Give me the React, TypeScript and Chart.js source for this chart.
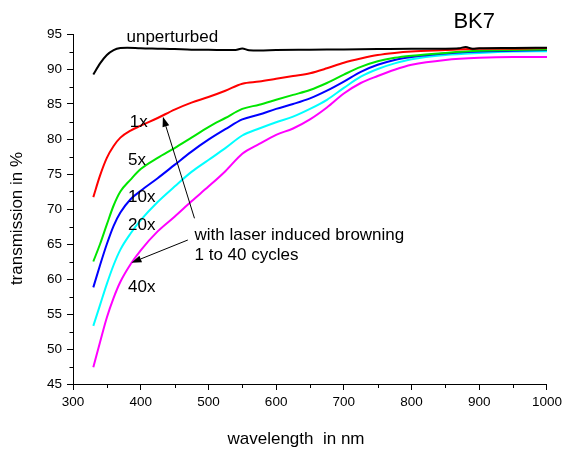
import React, { useEffect, useRef } from "react";
import { Chart, registerables } from "chart.js";

Chart.register(...registerables);

// ---------- data ----------
const wavelengths = [330, 340, 350, 360, 370, 385, 400, 425, 450, 475, 500, 525, 550, 575, 600, 625, 650, 675, 700, 725, 750, 775, 800, 850, 900, 950, 1000];

const cycles1 = [71.7, 74.8, 77.3, 79.0, 80.2, 81.2, 81.9, 83.0, 84.2, 85.2, 86.0, 86.9, 87.9, 88.2, 88.6, 89.0, 89.4, 90.1, 90.9, 91.5, 92.0, 92.3, 92.5, 92.7, 92.9, 92.9, 93.0];
const cycles5 = [62.5, 65.0, 67.8, 70.5, 72.5, 74.2, 75.7, 77.3, 78.7, 80.2, 81.7, 83.0, 84.3, 84.9, 85.6, 86.3, 87.0, 88.0, 89.2, 90.3, 91.1, 91.6, 91.9, 92.3, 92.6, 92.7, 92.8];
const cycles10 = [58.8, 62.0, 65.0, 67.6, 69.5, 71.4, 72.6, 74.4, 76.3, 78.2, 79.9, 81.4, 82.8, 83.5, 84.3, 85.0, 85.8, 86.9, 88.2, 89.6, 90.6, 91.3, 91.7, 92.2, 92.5, 92.6, 92.7];
const cycles20 = [53.3, 56.3, 59.3, 62.0, 64.2, 66.5, 68.4, 71.0, 73.2, 75.3, 77.0, 78.7, 80.5, 81.5, 82.4, 83.2, 84.3, 85.6, 87.3, 88.9, 90.0, 90.8, 91.4, 92.0, 92.3, 92.5, 92.55];
const cycles40 = [47.4, 51.0, 54.5, 57.3, 59.6, 62.1, 64.1, 66.8, 68.9, 71.1, 73.2, 75.4, 77.9, 79.3, 80.6, 81.5, 82.8, 84.5, 86.5, 88.0, 89.0, 89.9, 90.6, 91.3, 91.6, 91.7, 91.7];

const unperturbedWl = [330, 340, 350, 360, 370, 380, 400, 425, 450, 475, 500, 525, 540, 550, 560, 575, 600, 650, 700, 750, 800, 850, 870, 880, 890, 900, 950, 1000];
const unperturbedT = [89.2, 90.8, 92.0, 92.7, 93.0, 93.05, 92.95, 92.9, 92.85, 92.75, 92.75, 92.7, 92.72, 92.92, 92.68, 92.65, 92.7, 92.75, 92.8, 92.85, 92.9, 92.9, 92.95, 93.15, 92.9, 92.95, 93.0, 93.05];

const xTicks = [300, 400, 500, 600, 700, 800, 900, 1000];
const xMinorTicks = [350, 450, 550, 650, 750, 850, 950];
const yTicks = [45, 50, 55, 60, 65, 70, 75, 80, 85, 90, 95];
const yMinorTicks = [47.5, 52.5, 57.5, 62.5, 67.5, 72.5, 77.5, 82.5, 87.5, 92.5];

const seriesLabels = ["unperturbed", "1x", "5x", "10x", "20x", "40x"];
const xTitle = "wavelength  in nm";
const yTitle = "transmission in %";
const chartTitle = "BK7";
const noteLines = ["with laser induced browning", "1 to 40 cycles"];

// annotation anchors (in data units)
const textNotes = [
  { text: "unperturbed", x: 379, y: 93.79, size: 17 },
  { text: "1x", x: 383.8, y: 81.71, size: 17 },
  { text: "5x", x: 381.3, y: 76.29, size: 17 },
  { text: "10x", x: 381.3, y: 71.04, size: 17 },
  { text: "20x", x: 381.3, y: 67.0, size: 17 },
  { text: "40x", x: 381.3, y: 58.14, size: 17 },
  { text: noteLines[0], x: 479.4, y: 65.57, size: 17 },
  { text: noteLines[1], x: 479.4, y: 62.71, size: 17 },
  { text: chartTitle, x: 861.8, y: 95.86, size: 22 },
];
const arrows = [
  { x0: 479.4, y0: 68.67, x1: 432.8, y1: 83.19 },
  { x0: 469.6, y0: 65.57, x1: 386.3, y1: 62.33 },
];

const FONT = "'Liberation Sans', Arial, Helvetica, sans-serif";

const pairs = (xs: number[], ys: number[]) => xs.map((x, i) => ({ x, y: ys[i] }));

const overlayPlugin = {
  id: "overlay",
  afterDraw(chart: any) {
    const { ctx, scales, chartArea } = chart;
    const xs = scales.x;
    const ys = scales.y;
    ctx.save();
    ctx.strokeStyle = "#000";
    ctx.fillStyle = "#000";
    ctx.lineWidth = 1;
    // minor ticks
    ctx.beginPath();
    xMinorTicks.forEach((v) => {
      const px = Math.round(xs.getPixelForValue(v)) + 0.5;
      ctx.moveTo(px, chartArea.bottom);
      ctx.lineTo(px, chartArea.bottom + 4);
    });
    yMinorTicks.forEach((v) => {
      const py = Math.round(ys.getPixelForValue(v)) + 0.5;
      ctx.moveTo(chartArea.left - 3.5, py);
      ctx.lineTo(chartArea.left, py);
    });
    ctx.stroke();

    // texts
    ctx.textAlign = "left";
    ctx.textBaseline = "alphabetic";
    textNotes.forEach((t) => {
      ctx.font = `${t.size}px ${FONT}`;
      ctx.fillText(t.text, xs.getPixelForValue(t.x), ys.getPixelForValue(t.y));
    });

    // arrows
    arrows.forEach((a) => {
      const x0 = xs.getPixelForValue(a.x0);
      const y0 = ys.getPixelForValue(a.y0);
      const x1 = xs.getPixelForValue(a.x1);
      const y1 = ys.getPixelForValue(a.y1);
      const ang = Math.atan2(y1 - y0, x1 - x0);
      const len = 10;
      const hw = 3.5;
      const bx = x1 - len * Math.cos(ang);
      const by = y1 - len * Math.sin(ang);
      ctx.beginPath();
      ctx.moveTo(x0, y0);
      ctx.lineTo(bx, by);
      ctx.stroke();
      ctx.beginPath();
      ctx.moveTo(x1, y1);
      ctx.lineTo(bx + hw * Math.sin(ang), by - hw * Math.cos(ang));
      ctx.lineTo(bx - hw * Math.sin(ang), by + hw * Math.cos(ang));
      ctx.closePath();
      ctx.fill();
    });

    // axis titles
    ctx.font = `17px ${FONT}`;
    ctx.textAlign = "center";
    ctx.textBaseline = "alphabetic";
    ctx.fillText(xTitle, (chartArea.left + chartArea.right) / 2 - 14, 443.5);
    ctx.save();
    ctx.translate(21.5, (chartArea.top + chartArea.bottom) / 2 + 9.5);
    ctx.rotate(-Math.PI / 2);
    ctx.fillText(yTitle, 0, 0);
    ctx.restore();
    ctx.restore();
  },
};

export default function App() {
  const canvasRef = useRef<HTMLCanvasElement | null>(null);

  useEffect(() => {
    if (!canvasRef.current) return;
    const lineDs = (label: string, xs: number[], ys: number[], color: string) => ({
      label,
      data: pairs(xs, ys),
      borderColor: color,
      backgroundColor: color,
      borderWidth: 2,
      pointRadius: 0,
      cubicInterpolationMode: "monotone" as const,
      fill: false,
    });
    const chart = new Chart(canvasRef.current, {
      type: "line",
      data: {
        datasets: [
          lineDs(seriesLabels[0], unperturbedWl, unperturbedT, "#000000"),
          lineDs(seriesLabels[1], wavelengths, cycles1, "#ff0000"),
          lineDs(seriesLabels[2], wavelengths, cycles5, "#00e600"),
          lineDs(seriesLabels[3], wavelengths, cycles10, "#0000ff"),
          lineDs(seriesLabels[4], wavelengths, cycles20, "#00ffff"),
          lineDs(seriesLabels[5], wavelengths, cycles40, "#ff00ff"),
        ],
      },
      options: {
        animation: false,
        responsive: false,
        devicePixelRatio: 1,
        layout: { padding: { top: 34, right: 17, left: 0, bottom: 0 } },
        plugins: {
          legend: { display: false },
          tooltip: { enabled: false },
          title: { display: false },
        },
        scales: {
          x: {
            type: "linear",
            min: 300,
            max: 1000,
            border: { color: "#000", width: 1 },
            grid: { drawOnChartArea: false, drawTicks: true, tickLength: 6, color: "#000" },
            ticks: {
              color: "#000",
              font: { family: FONT, size: 13.5 },
              padding: 4,
              maxRotation: 0,
              autoSkip: false,
              callback: (v: any) => String(v),
            },
            afterBuildTicks: (s: any) => {
              s.ticks = xTicks.map((v) => ({ value: v }));
            },
            afterFit: (s: any) => {
              s.height = 65;
            },
          },
          y: {
            type: "linear",
            min: 45,
            max: 95,
            border: { color: "#000", width: 1 },
            grid: { drawOnChartArea: false, drawTicks: true, tickLength: 6, color: "#000" },
            ticks: {
              color: "#000",
              font: { family: FONT, size: 13.5 },
              padding: 5,
              autoSkip: false,
              callback: (v: any) => String(v),
            },
            afterBuildTicks: (s: any) => {
              s.ticks = yTicks.map((v) => ({ value: v }));
            },
            afterFit: (s: any) => {
              s.width = 73;
            },
          },
        },
      },
      plugins: [overlayPlugin],
    });
    return () => chart.destroy();
  }, []);

  return (
    <div style={{ position: "fixed", left: 0, top: 0, width: 566, height: 449, background: "#fff" }}>
      <canvas ref={canvasRef} width={566} height={449} style={{ display: "block" }} />
    </div>
  );
}
